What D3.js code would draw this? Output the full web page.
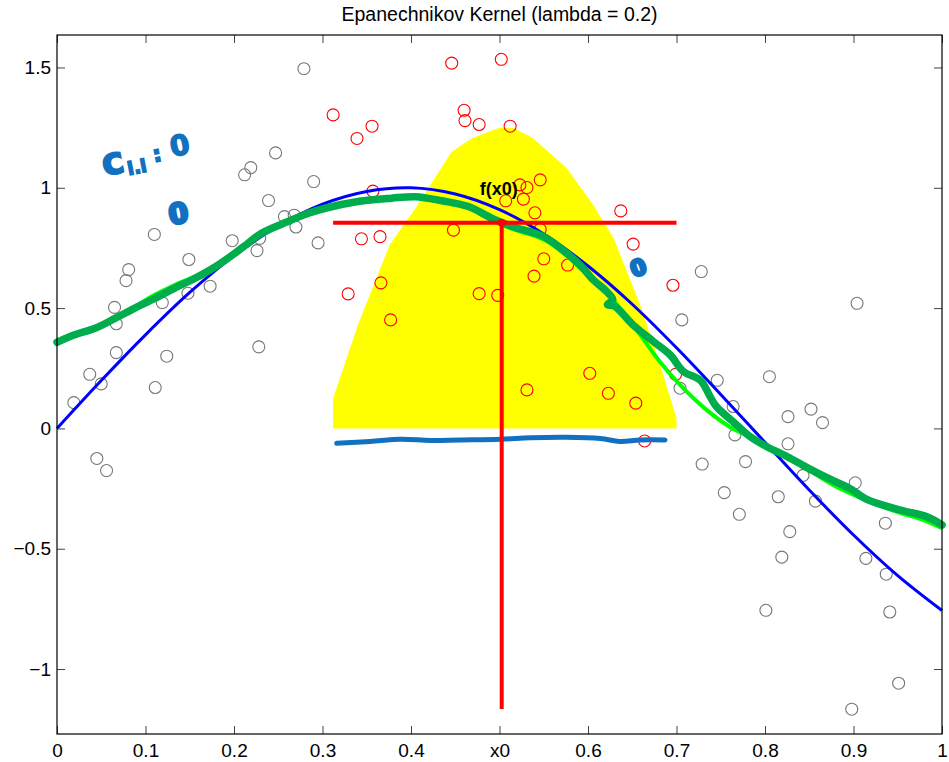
<!DOCTYPE html>
<html>
<head>
<meta charset="utf-8">
<script src="https://cdn.jsdelivr.net/npm/d3@7"></script>
<style>
  body { margin: 0; background: #fff; }
  svg { display: block; font-family: "Liberation Sans", Arial, Helvetica, sans-serif; }
</style>
</head>
<body>
<div id="chart"></div>
<script>
// ticks
const xTicks = [0, 0.1, 0.2, 0.3, 0.4, 0.5, 0.6, 0.7, 0.8, 0.9, 1];
const xTickLabels = ["0", "0.1", "0.2", "0.3", "0.4", "x0", "0.6", "0.7", "0.8", "0.9", "1"];
const yTicks = [-1, -0.5, 0, 0.5, 1, 1.5];
const yTickLabels = ["\u22121", "\u22120.5", "0", "0.5", "1", "1.5"];

// samples outside the kernel window (gray)
const grayX = [0.279, 0.247, 0.219, 0.212, 0.290, 0.239, 0.257, 0.268, 0.270, 0.110,
  0.198, 0.226, 0.229, 0.295, 0.149, 0.081, 0.078, 0.173, 0.148, 0.119,
  0.065, 0.067, 0.067, 0.124, 0.228, 0.037, 0.050, 0.111, 0.019, 0.045, 0.056,
  0.706, 0.704, 0.728, 0.904, 0.746, 0.805, 0.764, 0.826, 0.852, 0.865,
  0.766, 0.826, 0.729, 0.778, 0.902, 0.754, 0.815, 0.857, 0.771, 0.828,
  0.936, 0.819, 0.914, 0.937, 0.801, 0.941, 0.951, 0.898, 0.843];
const grayY = [1.495, 1.145, 1.084, 1.054, 1.026, 0.947, 0.880, 0.886, 0.837, 0.806,
  0.780, 0.739, 0.790, 0.771, 0.702, 0.660, 0.614, 0.591, 0.562, 0.523,
  0.503, 0.435, 0.315, 0.300, 0.339, 0.225, 0.185, 0.170, 0.107, -0.125, -0.175,
  0.451, 0.167, 0.652, 0.520, 0.200, 0.215, 0.091, 0.049, 0.080, 0.024,
  -0.027, -0.064, -0.148, -0.138, -0.226, -0.267, -0.284, -0.302, -0.357, -0.429,
  -0.394, -0.535, -0.540, -0.606, -0.756, -0.763, -1.059, -1.167, -0.195];

// samples inside the kernel window (red)
const redX = [0.446, 0.502, 0.312, 0.460, 0.461, 0.477, 0.512, 0.356, 0.339, 0.357,
  0.546, 0.523, 0.531, 0.507, 0.527, 0.540, 0.637, 0.651, 0.448, 0.344,
  0.365, 0.546, 0.550, 0.577, 0.539, 0.366, 0.329, 0.477, 0.498, 0.377,
  0.696, 0.602, 0.531, 0.623, 0.654, 0.664, 0.699];
const redY = [1.518, 1.534, 1.303, 1.322, 1.279, 1.263, 1.256, 1.256, 1.205, 0.986,
  1.033, 1.012, 1.001, 0.946, 0.953, 0.896, 0.904, 0.766, 0.824, 0.788,
  0.797, 0.827, 0.705, 0.679, 0.633, 0.605, 0.559, 0.560, 0.553, 0.451,
  0.595, 0.229, 0.160, 0.146, 0.105, -0.052, 0.225];

// true function (blue)
const trueX = [0, 0.05, 0.1, 0.15, 0.2, 0.25, 0.3, 0.35, 0.4, 0.45, 0.5,
  0.55, 0.6, 0.65, 0.7, 0.75, 0.8, 0.85, 0.9, 0.95, 1];
const trueY = [0, 0.199, 0.389, 0.565, 0.717, 0.841, 0.932, 0.985, 1.0, 0.974, 0.909,
  0.808, 0.675, 0.516, 0.335, 0.141, -0.058, -0.256, -0.443, -0.612, -0.757];

// kernel smoother fit (bright green)
const fitX = [0, 0.020, 0.043, 0.066, 0.088, 0.111, 0.133, 0.156, 0.179, 0.201,
  0.231, 0.261, 0.284, 0.303, 0.340, 0.378, 0.405, 0.435, 0.465, 0.491,
  0.514, 0.550, 0.576, 0.591, 0.614, 0.636, 0.659, 0.681, 0.704, 0.734,
  0.760, 0.790, 0.809, 0.840, 0.877, 0.915, 0.950, 0.980, 1.0];
const fitY = [0.360, 0.386, 0.415, 0.462, 0.507, 0.556, 0.596, 0.632, 0.676, 0.731,
  0.812, 0.862, 0.896, 0.918, 0.945, 0.958, 0.962, 0.943, 0.915, 0.868,
  0.830, 0.785, 0.718, 0.666, 0.596, 0.500, 0.389, 0.278, 0.181, 0.077,
  0.007, -0.048, -0.089, -0.150, -0.235, -0.300, -0.348, -0.382, -0.415];

// hand-drawn trace over the fit (dark green)
const penX = [0, 0.020, 0.043, 0.066, 0.088, 0.111, 0.133, 0.156, 0.179, 0.201,
  0.216, 0.231, 0.261, 0.284, 0.303, 0.340, 0.378, 0.405, 0.435, 0.465,
  0.491, 0.514, 0.550, 0.576, 0.591, 0.606, 0.621, 0.628, 0.622, 0.630,
  0.651, 0.674, 0.693, 0.708, 0.727, 0.738, 0.745, 0.764, 0.783, 0.802,
  0.825, 0.847, 0.870, 0.896, 0.915, 0.953, 0.983, 1.0];
const penY = [0.358, 0.389, 0.416, 0.458, 0.500, 0.541, 0.583, 0.624, 0.672, 0.728,
  0.770, 0.811, 0.860, 0.894, 0.915, 0.943, 0.957, 0.963, 0.946, 0.922,
  0.874, 0.839, 0.797, 0.728, 0.680, 0.617, 0.569, 0.535, 0.515, 0.508,
  0.430, 0.361, 0.305, 0.236, 0.200, 0.132, 0.091, 0.028, -0.034, -0.076,
  -0.117, -0.162, -0.205, -0.250, -0.295, -0.339, -0.367, -0.401];

// Epanechnikov weights around x0 (yellow)
const kernelX = [0.312, 0.312, 0.340, 0.376, 0.405, 0.446, 0.469, 0.499, 0.516,
  0.538, 0.576, 0.606, 0.629, 0.659, 0.678, 0.700, 0.700];
const kernelY = [0, 0.125, 0.430, 0.763, 0.915, 1.150, 1.206, 1.248, 1.248,
  1.206, 1.081, 0.929, 0.790, 0.513, 0.305, 0.042, 0];

// estimate at x0 (red)
const x0 = 0.5025;
const fx0 = 0.855;
const windowX = [0.312, 0.700];
const stemBottom = -1.166;

// hand-drawn baseline (blue pen)
const baseX = [0.316, 0.354, 0.388, 0.422, 0.455, 0.501, 0.535, 0.575, 0.614, 0.636, 0.659, 0.687];
const baseY = [-0.062, -0.054, -0.045, -0.050, -0.048, -0.045, -0.039, -0.037, -0.042, -0.054, -0.048, -0.048];

const width = 949, height = 762;
const margin = { top: 35, right: 7, bottom: 28, left: 57 };
const pen = "#1170c0";

const svg = d3.select("#chart").append("svg")
  .attr("width", width)
  .attr("height", height);

const x = d3.scaleLinear().domain([0, 1]).range([margin.left, width - margin.right]);
const y = d3.scaleLinear().domain([-1.27, 1.635]).range([height - margin.bottom, margin.top]);

const pts = (xs, ys) => xs.map((d, i) => [d, ys[i]]);

// yellow kernel window
svg.append("path")
  .datum(pts(kernelX, kernelY))
  .attr("fill", "#ffff00")
  .attr("d", d3.line().x((d) => x(d[0])).y((d) => y(d[1])));

// scatter
svg.append("g").selectAll("circle")
  .data(pts(grayX, grayY))
  .join("circle")
  .attr("cx", (d) => x(d[0]))
  .attr("cy", (d) => y(d[1]))
  .attr("r", 6)
  .attr("fill", "none")
  .attr("stroke", "#777")
  .attr("stroke-width", 1.1);

svg.append("g").selectAll("circle")
  .data(pts(redX, redY))
  .join("circle")
  .attr("cx", (d) => x(d[0]))
  .attr("cy", (d) => y(d[1]))
  .attr("r", 6)
  .attr("fill", "none")
  .attr("stroke", "#ff0000")
  .attr("stroke-width", 1.1);

const smooth = d3.line().x((d) => x(d[0])).y((d) => y(d[1])).curve(d3.curveCatmullRom);

// true curve
svg.append("path")
  .datum(pts(trueX, trueY))
  .attr("fill", "none")
  .attr("stroke", "#0000ff")
  .attr("stroke-width", 3)
  .attr("d", smooth);

// fitted curve
svg.append("path")
  .datum(pts(fitX, fitY))
  .attr("fill", "none")
  .attr("stroke", "#00ff00")
  .attr("stroke-width", 4)
  .attr("stroke-linejoin", "round")
  .attr("d", smooth);

// pen: baseline under the kernel
svg.append("path")
  .datum(pts(baseX, baseY))
  .attr("fill", "none")
  .attr("stroke", pen)
  .attr("stroke-width", 5)
  .attr("stroke-linecap", "round")
  .attr("d", smooth);

// pen: dark green trace
svg.append("path")
  .datum(pts(penX, penY))
  .attr("fill", "none")
  .attr("stroke", "#00ad4c")
  .attr("stroke-width", 7.5)
  .attr("stroke-linecap", "round")
  .attr("stroke-linejoin", "round")
  .attr("d", smooth);

// red estimate lines
svg.append("line")
  .attr("x1", x(windowX[0])).attr("x2", x(windowX[1]))
  .attr("y1", y(fx0)).attr("y2", y(fx0))
  .attr("stroke", "#ff0000").attr("stroke-width", 4);
svg.append("line")
  .attr("x1", x(x0)).attr("x2", x(x0))
  .attr("y1", y(fx0)).attr("y2", y(stemBottom))
  .attr("stroke", "#ff0000").attr("stroke-width", 4);
svg.append("circle")
  .attr("cx", x(x0)).attr("cy", y(fx0)).attr("r", 4)
  .attr("fill", "#ff0000");

svg.append("text")
  .attr("x", x(x0) - 3)
  .attr("y", y(fx0) - 28)
  .attr("text-anchor", "middle")
  .attr("font-size", 18)
  .attr("font-weight", "bold")
  .text("f(x0)");

// pen notes
const note = svg.append("text")
  .attr("transform", "translate(104,176) rotate(-11)")
  .attr("fill", pen)
  .attr("stroke", pen)
  .attr("stroke-width", 1.5)
  .attr("font-family", "DejaVu Sans")
  .attr("font-weight", "bold");
note.append("tspan").attr("font-size", 38).text("c");
note.append("tspan").attr("font-size", 18).attr("dy", 4).attr("dx", 2).text("l.i");
note.append("tspan").attr("font-size", 22).attr("dy", -8).attr("dx", 8).text(":");
note.append("tspan").attr("font-size", 28).attr("dy", -2).attr("dx", 10).text("0");

svg.append("text")
  .attr("transform", "translate(180,223) rotate(-10)")
  .attr("text-anchor", "middle")
  .attr("fill", pen).attr("stroke", pen).attr("stroke-width", 3)
  .attr("font-family", "DejaVu Sans").attr("font-weight", "bold")
  .attr("font-size", 28)
  .text("0");

svg.append("text")
  .attr("transform", "translate(641,275) rotate(-20)")
  .attr("text-anchor", "middle")
  .attr("fill", pen).attr("stroke", pen).attr("stroke-width", 3)
  .attr("font-family", "DejaVu Sans").attr("font-weight", "bold")
  .attr("font-size", 22)
  .text("0");

// axes
const axisStyle = (g) => {
  g.select(".domain").remove();
  g.selectAll(".tick line").attr("stroke", "#444");
  g.selectAll(".tick text").attr("font-size", 19).attr("fill", "#000")
    .attr("font-family", "Liberation Sans, Arial, sans-serif");
};

svg.append("g")
  .attr("transform", `translate(0,${height - margin.bottom})`)
  .call(d3.axisBottom(x).tickValues(xTicks).tickFormat((d, i) => xTickLabels[i])
    .tickSizeInner(-8).tickSizeOuter(0).tickPadding(10))
  .call(axisStyle);

svg.append("g")
  .attr("transform", `translate(0,${margin.top})`)
  .call(d3.axisTop(x).tickValues(xTicks).tickFormat("").tickSizeInner(-8).tickSizeOuter(0))
  .call(axisStyle);

svg.append("g")
  .attr("transform", `translate(${margin.left},0)`)
  .call(d3.axisLeft(y).tickValues(yTicks).tickFormat((d, i) => yTickLabels[i])
    .tickSizeInner(-8).tickSizeOuter(0).tickPadding(6))
  .call(axisStyle);

svg.append("g")
  .attr("transform", `translate(${width - margin.right},0)`)
  .call(d3.axisRight(y).tickValues(yTicks).tickFormat("").tickSizeInner(-8).tickSizeOuter(0))
  .call(axisStyle);

// box
svg.append("rect")
  .attr("x", margin.left).attr("y", margin.top)
  .attr("width", width - margin.left - margin.right)
  .attr("height", height - margin.top - margin.bottom)
  .attr("fill", "none")
  .attr("stroke", "#000")
  .attr("stroke-width", 1.2);

// title
svg.append("text")
  .attr("x", (margin.left + width - margin.right) / 2)
  .attr("y", 21)
  .attr("text-anchor", "middle")
  .attr("font-size", 19.5)
  .text("Epanechnikov Kernel (lambda = 0.2)");
</script>
</body>
</html>
